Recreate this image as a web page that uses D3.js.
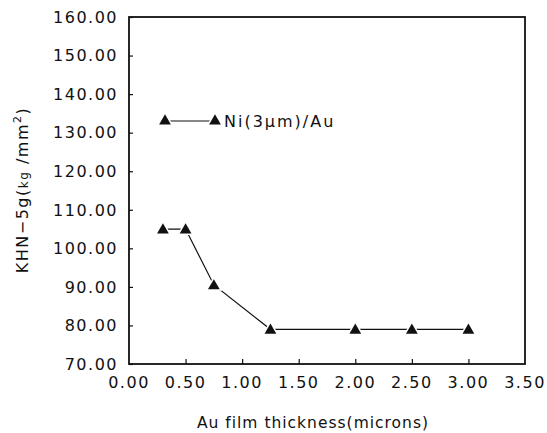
<!DOCTYPE html>
<html>
<head>
<meta charset="utf-8">
<script src="https://cdn.jsdelivr.net/npm/d3@7"></script>
<style>
  body { margin: 0; background: #fff; }
  svg { display: block; }
  text { font-family: "DejaVu Sans", sans-serif; fill: #111; }
</style>
</head>
<body>
<svg id="chart" width="547" height="433"></svg>
<script>
// values
const thickness = [0.3, 0.5, 0.75, 1.25, 2.0, 2.5, 3.0];
const hardness = [105, 105, 90.5, 79, 79, 79, 79];
const xTicks = [0, 0.5, 1, 1.5, 2, 2.5, 3, 3.5];
const yTicks = [70, 80, 90, 100, 110, 120, 130, 140, 150, 160];
const seriesName = 'Ni(3\u00b5m)/Au';

const svg = d3.select('#chart');
const pLeft = 129, pRight = 525, pTop = 17, pBottom = 364;

const x = d3.scaleLinear().domain([0, 3.5]).range([pLeft, pRight]);
const y = d3.scaleLinear().domain([70, 160]).range([pBottom, pTop]);

// frame
svg.append('rect')
  .attr('x', pLeft).attr('y', pTop)
  .attr('width', pRight - pLeft).attr('height', pBottom - pTop)
  .attr('fill', 'none').attr('stroke', '#111').attr('stroke-width', 1.8);

// y axis (ticks point inward)
const yAxis = svg.append('g')
  .attr('transform', `translate(${pLeft},0)`)
  .call(d3.axisRight(y).tickValues(yTicks).tickSize(4).tickFormat(''));
yAxis.select('.domain').remove();
yAxis.selectAll('line').attr('stroke', '#111').attr('stroke-width', 1.2);

svg.append('g').selectAll('text')
  .data(yTicks)
  .enter()
  .append('text')
  .attr('x', pLeft - 11)
  .attr('y', (d) => y(d))
  .attr('dy', '0.36em')
  .attr('text-anchor', 'end')
  .attr('font-size', '16px')
  .attr('letter-spacing', '1.5px')
  .text((d) => d3.format('.2f')(d));

// x axis (ticks point inward)
const xAxis = svg.append('g')
  .attr('transform', `translate(0,${pBottom})`)
  .call(d3.axisTop(x).tickValues(xTicks.slice(1, -1)).tickSize(5).tickFormat(''));
xAxis.select('.domain').remove();
xAxis.selectAll('line').attr('stroke', '#111').attr('stroke-width', 1.2);

svg.append('g').selectAll('text')
  .data(xTicks)
  .enter()
  .append('text')
  .attr('x', (d) => x(d))
  .attr('y', 388)
  .attr('text-anchor', 'middle')
  .attr('font-size', '16px')
  .attr('letter-spacing', '1.5px')
  .text((d) => d3.format('.2f')(d));

// axis titles
svg.append('text')
  .attr('x', 313).attr('y', 428)
  .attr('text-anchor', 'middle')
  .attr('font-size', '15.5px')
  .attr('letter-spacing', '1px')
  .text('Au film thickness(microns)');

const yTitle = svg.append('text')
  .attr('transform', `translate(28,190) rotate(-90)`)
  .attr('text-anchor', 'middle')
  .attr('font-size', '16px')
  .attr('letter-spacing', '1.5px');
yTitle.append('tspan').text('KHN\u22125g(');
yTitle.append('tspan').attr('font-size', '12px').text('kg');
yTitle.append('tspan').text(' /mm');
yTitle.append('tspan').attr('font-size', '11px').attr('dy', '-0.6em').text('2');
yTitle.append('tspan').attr('dy', '0.4em').text(')');

// data line
const pts = thickness.map((t, i) => [t, hardness[i]]);
const line = d3.line()
  .x((d) => x(d[0]))
  .y((d) => y(d[1]));

svg.append('path')
  .datum(pts)
  .attr('d', line)
  .attr('fill', 'none')
  .attr('stroke', '#111')
  .attr('stroke-width', 1.2);

const tri = d3.symbol().type(d3.symbolTriangle).size(60);

svg.append('g').selectAll('path')
  .data(pts)
  .enter()
  .append('path')
  .attr('d', tri)
  .attr('transform', (d) => `translate(${x(d[0])},${y(d[1]) + 1})`)
  .attr('fill', '#111')
  .attr('stroke', '#fff')
  .attr('stroke-width', 3)
  .attr('paint-order', 'stroke');

// legend
const legY = 121;
svg.append('line')
  .attr('x1', 165).attr('x2', 215)
  .attr('y1', legY).attr('y2', legY)
  .attr('stroke', '#111').attr('stroke-width', 1.2);
svg.append('g').selectAll('path')
  .data([165, 215])
  .enter()
  .append('path')
  .attr('d', tri)
  .attr('transform', (d) => `translate(${d},${legY})`)
  .attr('fill', '#111')
  .attr('stroke', '#fff')
  .attr('stroke-width', 3)
  .attr('paint-order', 'stroke');
svg.append('text')
  .attr('x', 224).attr('y', legY)
  .attr('dy', '0.36em')
  .attr('font-size', '16px')
  .attr('letter-spacing', '2px')
  .text(seriesName);
</script>
</body>
</html>
